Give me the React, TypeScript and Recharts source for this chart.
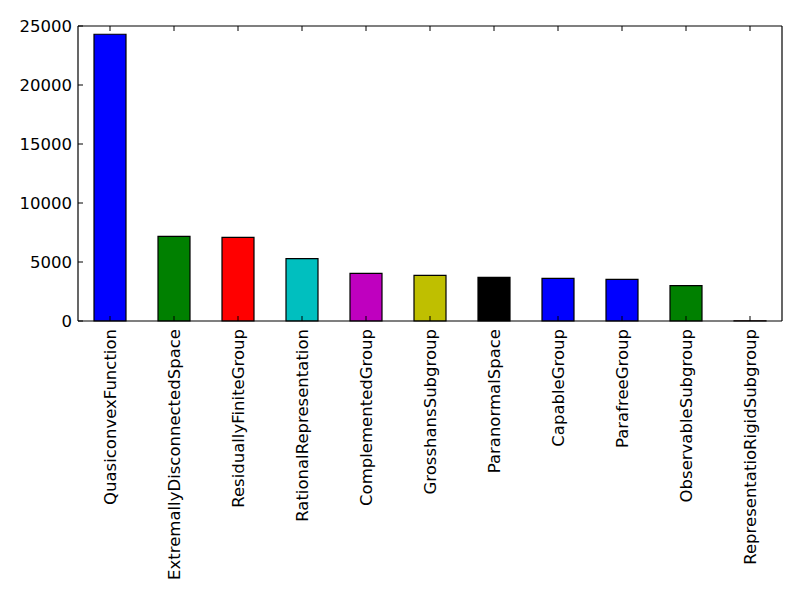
import { Bar, BarChart, Cell, XAxis, YAxis } from "recharts";

const categories = [
  "QuasiconvexFunction",
  "ExtremallyDisconnectedSpace",
  "ResiduallyFiniteGroup",
  "RationalRepresentation",
  "ComplementedGroup",
  "GrosshansSubgroup",
  "ParanormalSpace",
  "CapableGroup",
  "ParafreeGroup",
  "ObservableSubgroup",
  "RepresentatioRigidSubgroup",
];

const counts = [24300, 7180, 7090, 5290, 4040, 3870, 3700, 3620, 3530, 3000, 20];

const yTicks = [0, 5000, 10000, 15000, 20000, 25000];

// colour of each bar as it appears in the original
const barColors = [
  "#0000ff",
  "#008000",
  "#ff0000",
  "#00bfbf",
  "#bf00bf",
  "#bfbf00",
  "#000000",
  "#0000ff",
  "#0000ff",
  "#008000",
  "#ff0000",
];

const data = categories.map((name, i) => ({ name, value: counts[i] }));

const FONT = "'DejaVu Sans', sans-serif";
const TICK_LEN = 5;

function BottomTick({ x, y, payload }: any) {
  return (
    <g>
      <line x1={x} y1={y} x2={x} y2={y - TICK_LEN} stroke="#000" />
      <text
        x={x}
        y={y + 8}
        transform={`rotate(-90 ${x} ${y + 8})`}
        textAnchor="end"
        dy="0.36em"
        fontSize={16.5}
        fontFamily={FONT}
        fill="#000"
      >
        {payload.value}
      </text>
    </g>
  );
}

function TopTick({ x, y }: any) {
  return <line x1={x} y1={y} x2={x} y2={y + TICK_LEN} stroke="#000" />;
}

function LeftTick({ x, y, payload }: any) {
  return (
    <g>
      <line x1={x} y1={y} x2={x + TICK_LEN} y2={y} stroke="#000" />
      <text
        x={x - 6}
        y={y}
        textAnchor="end"
        dy="0.36em"
        fontSize={16.5}
        fontFamily={FONT}
        fill="#000"
      >
        {payload.value}
      </text>
    </g>
  );
}

function RightTick({ x, y }: any) {
  return <line x1={x} y1={y} x2={x - TICK_LEN} y2={y} stroke="#000" />;
}

export default function App() {
  return (
    <div style={{ position: "absolute", left: 0, top: 0, width: 800, height: 600, background: "#fff" }}>
      <BarChart
        width={800}
        height={600}
        data={data}
        margin={{ top: 0, right: 0, bottom: 0, left: 0 }}
        barCategoryGap="25%"
      >
        <XAxis
          xAxisId="bottom"
          dataKey="name"
          orientation="bottom"
          height={279}
          interval={0}
          tickSize={0}
          tickMargin={0}
          tickLine={false}
          axisLine={{ stroke: "#000", strokeWidth: 1.2 }}
          tick={<BottomTick />}
        />
        <XAxis
          xAxisId="top"
          dataKey="name"
          orientation="top"
          height={26}
          interval={0}
          tickSize={0}
          tickMargin={0}
          tickLine={false}
          axisLine={{ stroke: "#000", strokeWidth: 1.2 }}
          tick={<TopTick />}
        />
        <YAxis
          yAxisId="left"
          orientation="left"
          width={78}
          domain={[0, 25000]}
          ticks={yTicks}
          interval={0}
          tickSize={0}
          tickMargin={0}
          tickLine={false}
          axisLine={{ stroke: "#000", strokeWidth: 1.2 }}
          tick={<LeftTick />}
        />
        <YAxis
          yAxisId="right"
          orientation="right"
          width={18}
          domain={[0, 25000]}
          ticks={yTicks}
          interval={0}
          tickSize={0}
          tickMargin={0}
          tickLine={false}
          axisLine={{ stroke: "#000", strokeWidth: 1.2 }}
          tick={<RightTick />}
        />
        <Bar
          dataKey="value"
          xAxisId="bottom"
          yAxisId="left"
          stroke="#000"
          strokeWidth={1.2}
          isAnimationActive={false}
        >
          {data.map((d, i) => (
            <Cell key={d.name} fill={barColors[i]} />
          ))}
        </Bar>
      </BarChart>
    </div>
  );
}
